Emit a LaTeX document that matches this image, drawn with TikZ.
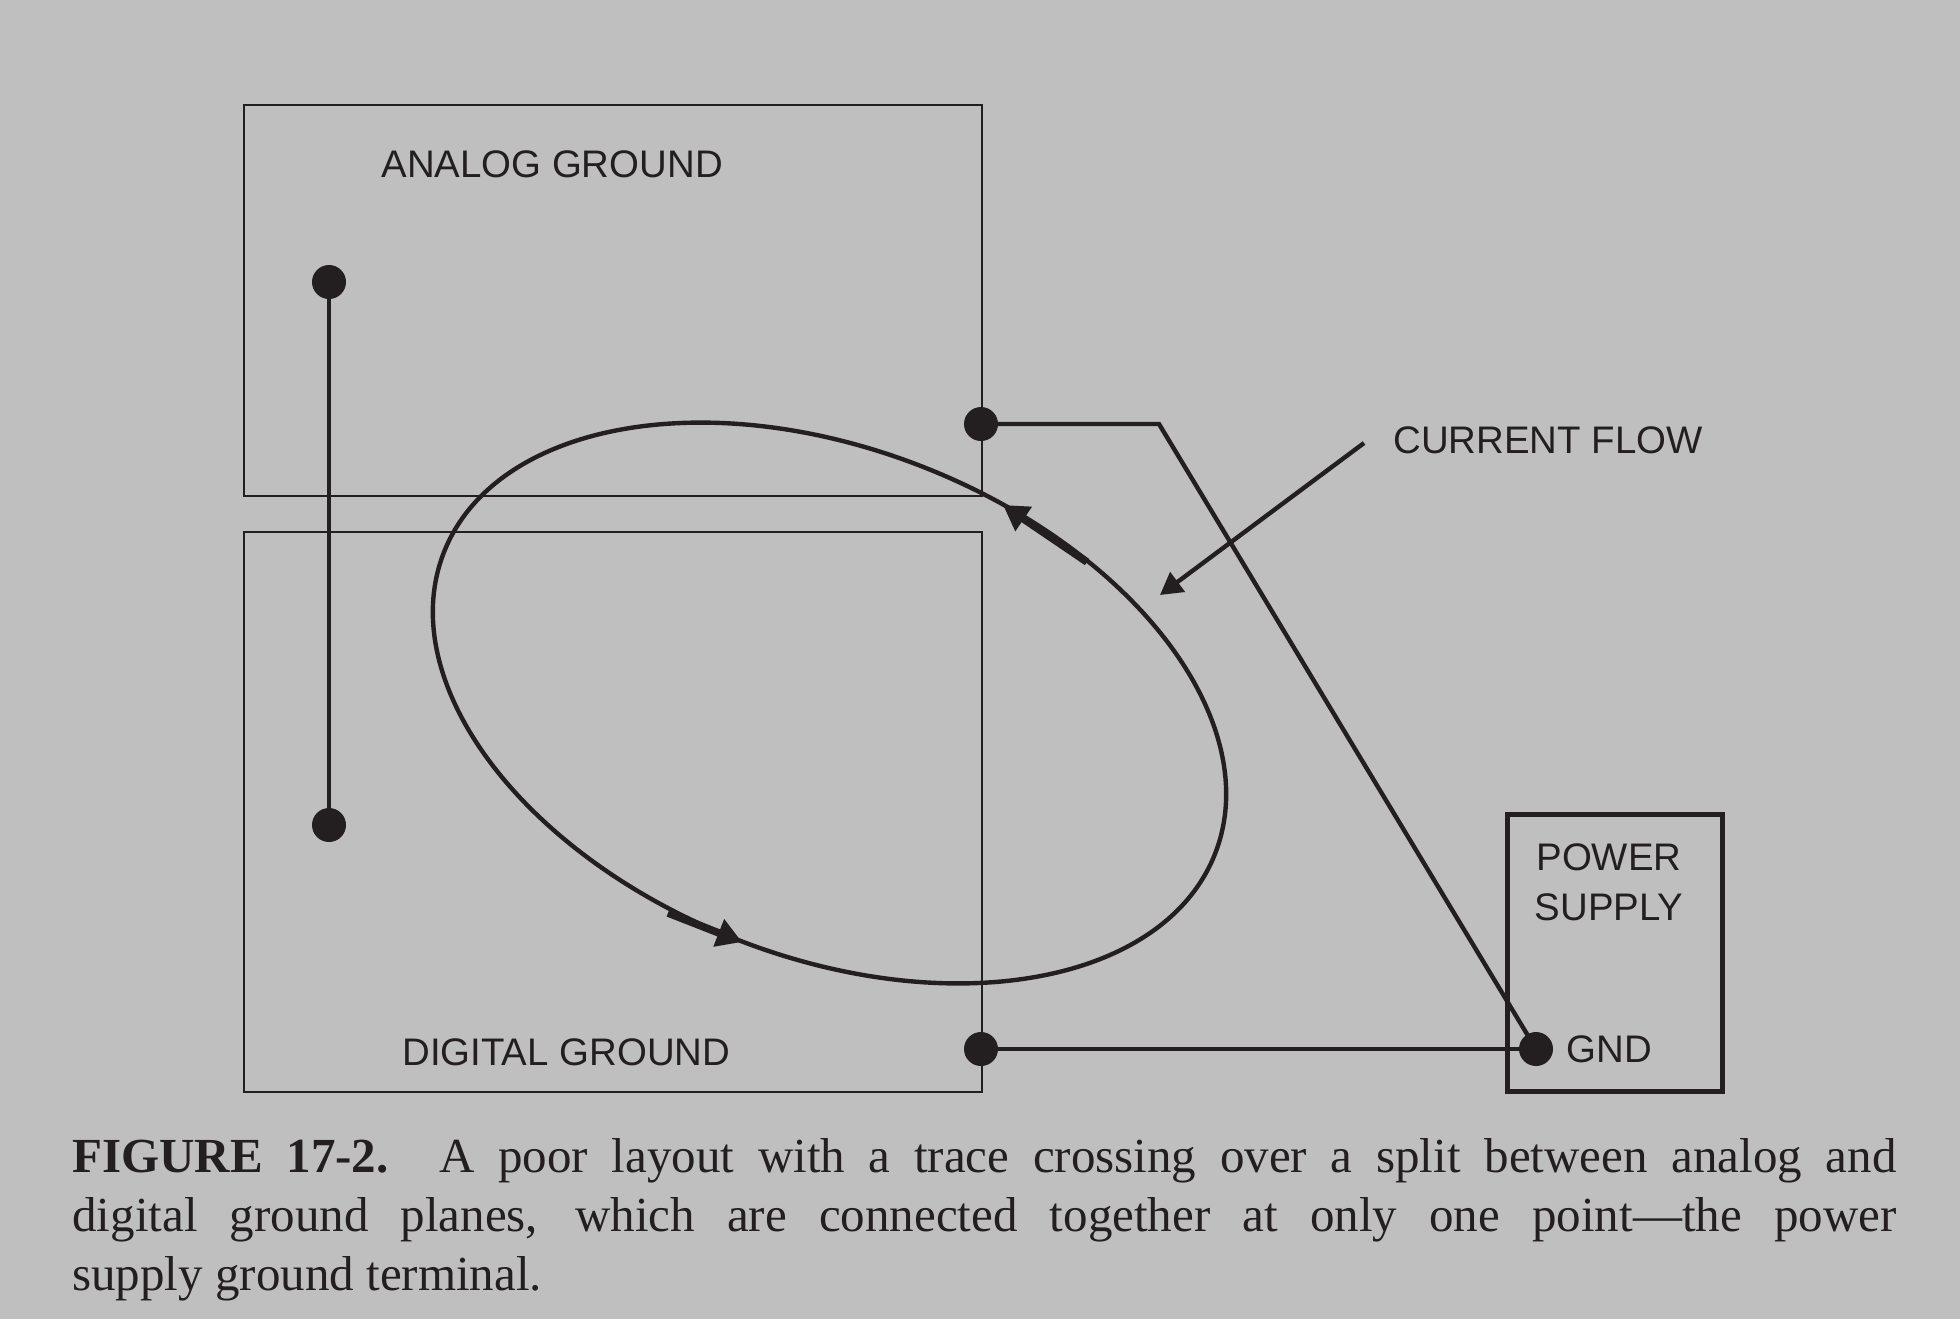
\documentclass[tikz,border=0pt]{standalone}
\usepackage{fontspec}
\setmainfont{Liberation Serif}
\newfontfamily\labelfont{Liberation Sans}
\usetikzlibrary{arrows.meta}
\definecolor{bg}{RGB}{191,191,191}
\definecolor{ink}{RGB}{35,31,32}
\begin{document}
\begin{tikzpicture}[x=0.5pt,y=-0.5pt,
  plane/.style={draw=ink,line width=1.2pt,inner sep=0pt,anchor=north west},
  psbox/.style={draw=ink,line width=2.3pt,inner sep=0pt,anchor=north west},
  trace/.style={draw=ink,line width=2.2pt},
  loop/.style={draw=ink,line width=2.2pt},
  dot/.style={circle,fill=ink,inner sep=0pt,minimum size=17pt},
  lbl/.style={font=\labelfont\fontsize{19.2}{23}\selectfont,text=ink,inner sep=0pt},
  flowarrow/.style={draw=ink,line width=3.8pt,-{Triangle[length=12.5pt,width=14pt]}},
  pointer/.style={draw=ink,line width=2.2pt,-{Triangle[length=11pt,width=12pt]}},
  caption/.style={font=\fontsize{24.5}{29.5}\selectfont,text=ink,inner sep=0pt,anchor=base west,align=left}
]
\fill[bg] (0,0) rectangle (1960,1319);
\useasboundingbox (0,0) rectangle (1960,1319);

% planes
\node[plane,minimum width=369.25pt,minimum height=195.5pt] (analog) at (242.5,104) {};
\node[plane,minimum width=369.25pt,minimum height=280pt] (digital) at (242.5,531) {};
\node[psbox,minimum width=107.5pt,minimum height=138.5pt] (ps) at (1505,812) {};

% dots
\node[dot] (a1) at (329,282) {};
\node[dot] (a2) at (329,825) {};
\node[dot] (ar) at (981,424) {};
\node[dot] (dr) at (981,1049) {};
\node[dot] (gnd) at (1536,1049) {};
\coordinate (bend) at (1159,424);

% traces
\draw[trace] (a1.center) -- (a2.center);
\draw[trace] (ar.center) -- (bend) -- (gnd.center);
\draw[trace] (dr.center) -- (gnd.center);

% current loop
\draw[loop,rotate around={-21.3:(829.5,703)}] (829.5,703) ellipse [x radius=207pt, y radius=127pt];
\coordinate (f1s) at (1087,562);
\coordinate (f1e) at (1003,505);
\coordinate (f2s) at (668,913);
\coordinate (f2e) at (742,942);
\draw[flowarrow] (f1s) -- (f1e);
\draw[flowarrow] (f2s) -- (f2e);

% labels
\node[lbl,anchor=base west] (ag) at (381,177) {ANALOG GROUND};
\node[lbl,anchor=base west] (dg) at (402,1065) {DIGITAL GROUND};
\node[lbl,anchor=base west] (cf) at (1393,453) {CURRENT FLOW};
\node[lbl,anchor=base] (ps1) at (1609,870) {POWER};
\node[lbl,anchor=base] (ps2) at (1609,920) {SUPPLY};
\node[lbl,anchor=base west] (gl) at (1566,1062) {GND};

\coordinate (cfs) at (1364,443);
\coordinate (cfe) at (1160,595);
\draw[pointer] (cfs) -- (cfe);

% caption
\node[caption] (cap) at (72,1290) {%
\makebox[912pt][s]{\textbf{FIGURE 17-2.} A poor layout with a trace crossing over a split between analog and}\\
\makebox[912pt][s]{digital ground planes, which are connected together at only one point—the power}\\
supply ground terminal.};
\end{tikzpicture}
\end{document}
